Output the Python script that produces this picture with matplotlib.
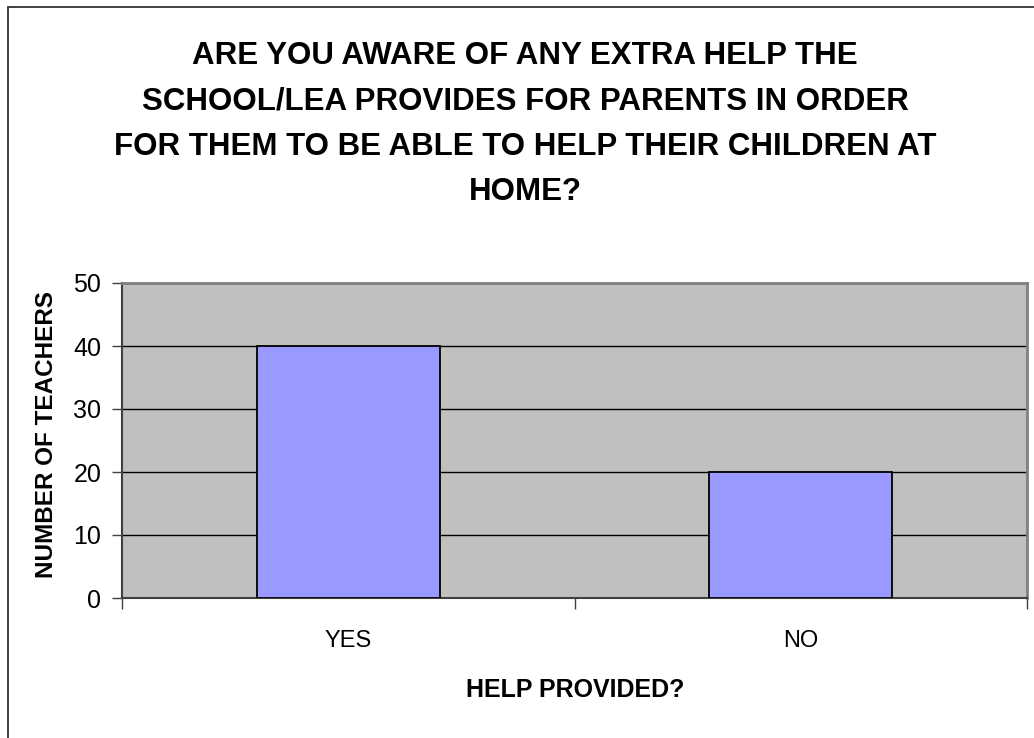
import matplotlib
matplotlib.use("Agg")
import matplotlib.pyplot as plt
from matplotlib import font_manager
from matplotlib.patches import Rectangle
from matplotlib.ticker import FixedLocator

# data
categories = ["YES", "NO"]
teachers = [40, 20]
y_ticks = [0, 10, 20, 30, 40, 50]

title = ("ARE YOU AWARE OF ANY EXTRA HELP THE\n"
         "SCHOOL/LEA PROVIDES FOR PARENTS IN ORDER\n"
         "FOR THEM TO BE ABLE TO HELP THEIR CHILDREN AT\n"
         "HOME?")

# pick a narrow Arial-like face if there is one
names = {f.name for f in font_manager.fontManager.ttflist}
narrow = next((n for n in ["Liberation Sans Narrow", "Arial Narrow", "Liberation Sans"]
               if n in names), "DejaVu Sans")
wide = "Liberation Sans" if "Liberation Sans" in names else "DejaVu Sans"

fig = plt.figure(figsize=(10.34, 7.38), dpi=100)
W, H = 1034, 738

# chart frame (runs off the right and bottom edges)
fig.patches.append(Rectangle((7.5 / W, -0.5), 2, 1.5 - 6.5 / H, transform=fig.transFigure,
                             fill=False, edgecolor="#333333", linewidth=1.3))

ax = fig.add_axes([122 / W, 1 - 598 / H, (1027 - 122) / W, (598 - 283) / H])
ax.set_facecolor("#C0C0C0")

x = list(range(len(categories)))
ax.bar(x, teachers, width=0.405, color="#9999FF", edgecolor="black", linewidth=1.3, zorder=3)

ax.set_xlim(-0.5, len(categories) - 0.5)
ax.set_ylim(0, 50)
ax.set_yticks(y_ticks)
ax.yaxis.grid(True, color="black", linewidth=1.0, zorder=0)
ax.set_axisbelow(True)

ax.set_xticks(x)
ax.set_xticklabels(categories, fontsize=17, family=narrow)
ax.xaxis.set_minor_locator(FixedLocator([-0.5, 0.5, 1.5]))
ax.tick_params(axis="x", which="major", length=0, pad=23)
ax.tick_params(axis="x", which="minor", length=8, width=1, color="#404040")
ax.tick_params(axis="y", length=7, width=1, color="#404040", pad=8)
for lab in ax.get_yticklabels():
    lab.set_fontsize(18)
    lab.set_family(narrow)

for side in ["top", "right"]:
    ax.spines[side].set_color("#808080")
    ax.spines[side].set_linewidth(2)
for side in ["left", "bottom"]:
    ax.spines[side].set_color("#404040")
    ax.spines[side].set_linewidth(1.5)

fig.text(525 / W, 1 - 124 / H, title, ha="center", va="center", fontsize=22.5,
         fontweight="bold", family=narrow, linespacing=1.68)

fig.text(575 / W, 1 - 690 / H, "HELP PROVIDED?", ha="center", va="center",
         fontsize=18, fontweight="bold", family=narrow)
fig.text(47 / W, 1 - 434 / H, "NUMBER OF TEACHERS", ha="center", va="center",
         rotation=90, fontsize=17.5, fontweight="bold", family=wide)

fig.savefig("out.png", dpi=100)
